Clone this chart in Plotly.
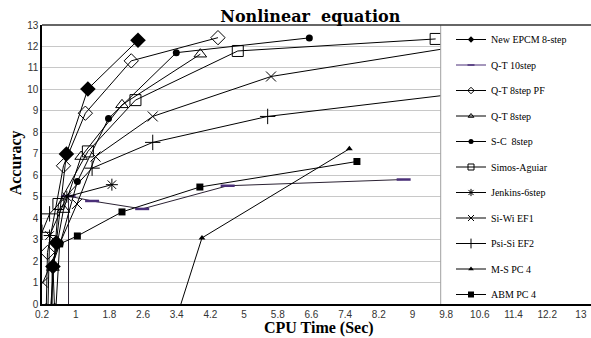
import plotly.graph_objects as go

# ---------------- data ----------------
names = ["New EPCM 8-step", "Q-T 10step", "Q-T 8step PF", "Q-T 8step", "S-C  8step",
         "Simos-Aguiar", "Jenkins-6step", "Si-Wi EF1", "Psi-Si EF2", "M-S PC 4", "ABM PC 4"]

epcm_x = [0.5, 0.46, 0.54, 0.78, 1.29, 2.48]
epcm_y = [-0.3, 1.75, 2.85, 6.99, 10.02, 12.29]

qt10_x = [0.83, 0.83, 1.39, 2.58, 4.61, 8.79]
qt10_y = [-0.5, 5.03, 4.8, 4.43, 5.51, 5.8]

qtpf_x = [0.3, 0.33, 0.71, 1.23, 2.32, 4.38]
qtpf_y = [-0.3, 2.4, 6.44, 8.89, 11.33, 12.41]

qt8_x = [0.42, 0.46, 0.71, 1.13, 2.1, 3.96]
qt8_y = [-0.3, 1.7, 4.4, 6.87, 9.28, 11.64]

sc_x = [0.44, 0.44, 0.63, 1.04, 1.78, 3.39, 6.55]
sc_y = [-0.3, 1.8, 2.81, 5.71, 8.64, 11.71, 12.4]

simos_x = [0.4, 0.59, 1.29, 2.42, 4.85, 9.55]
simos_y = [-0.3, 4.66, 7.11, 9.5, 11.79, 12.35]

jenk_x = [0.34, 0.38, 0.79, 1.86]
jenk_y = [-0.3, 3.19, 5.0, 5.56]

siwi_x = [0.22, 1.03, 1.47, 2.83, 5.64, 12.0]
siwi_y = [1.0, 4.66, 6.87, 8.74, 10.6, 12.6]

psisi_x = [0.2, 0.38, 1.39, 2.83, 5.56, 12.0]
psisi_y = [3.34, 4.2, 6.33, 7.53, 8.74, 10.25]

ms_x = [3.35, 4.0, 7.5]
ms_y = [-0.92, 3.08, 7.23]

abm_x = [0.53, 0.62, 1.04, 2.1, 3.95, 7.68]
abm_y = [-0.2, 2.8, 3.17, 4.29, 5.45, 6.64]

x_ticks = [0.2, 1, 1.8, 2.6, 3.4, 4.2, 5, 5.8, 6.6, 7.4, 8.2, 9, 9.8, 10.6, 11.4, 12.2, 13]
x_tick_text = ["0.2", "1", "1.8", "2.6", "3.4", "4.2", "5", "5.8", "6.6", "7.4", "8.2", "9",
               "9.8", "10.6", "11.4", "12.2", "13"]
y_ticks = list(range(0, 14))

# ---------------- styling ----------------
# (x, y, plot marker, legend marker, line colour)
series = [
    (epcm_x, epcm_y, dict(symbol="diamond", size=12, color="black"),
     dict(symbol="diamond", size=5, color="black"), "black"),
    (qt10_x, qt10_y, dict(symbol="line-ew", size=10, color="#4a2f78",
                          line=dict(color="#4a2f78", width=2.5)),
     dict(symbol="line-ew", size=5, color="#4a2f78", line=dict(color="#4a2f78", width=1.5)), "#2b2233"),
    (qtpf_x, qtpf_y, dict(symbol="diamond-open", size=11, color="black", line=dict(width=1)),
     dict(symbol="diamond-open", size=5, color="black", line=dict(width=1)), "black"),
    (qt8_x, qt8_y, dict(symbol="triangle-up-open", size=11, color="black", line=dict(width=1)),
     dict(symbol="triangle-up-open", size=5, color="black", line=dict(width=1)), "black"),
    (sc_x, sc_y, dict(symbol="circle", size=7, color="black"),
     dict(symbol="circle", size=5, color="black"), "black"),
    (simos_x, simos_y, dict(symbol="square-open", size=11, color="black", line=dict(width=1)),
     dict(symbol="square-open", size=6, color="black", line=dict(width=1)), "black"),
    (jenk_x, jenk_y, dict(symbol="asterisk-open", size=10, color="black", line=dict(width=1)),
     dict(symbol="asterisk-open", size=6, color="black", line=dict(width=1)), "black"),
    (siwi_x, siwi_y, dict(symbol="x-thin-open", size=10, color="black", line=dict(width=1)),
     dict(symbol="x-thin-open", size=6, color="black", line=dict(width=1)), "black"),
    (psisi_x, psisi_y, dict(symbol="cross-thin-open", size=11, color="black", line=dict(width=1)),
     dict(symbol="cross-thin-open", size=7, color="black", line=dict(width=1)), "black"),
    (ms_x, ms_y, dict(symbol="triangle-up", size=6, color="black"),
     dict(symbol="triangle-up", size=5, color="black"), "black"),
    (abm_x, abm_y, dict(symbol="square", size=7, color="black"),
     dict(symbol="square", size=6, color="black"), "black"),
]

fig = go.Figure()
for i, (xs, ys, mk, lmk, lc) in enumerate(series):
    fig.add_trace(go.Scatter(
        x=xs, y=ys, mode="lines+markers", name=names[i], showlegend=False,
        line=dict(color=lc, width=1), marker=mk,
    ))
for i, (xs, ys, mk, lmk, lc) in enumerate(series):
    # legend entry with small symbol (Excel-style legend)
    fig.add_trace(go.Scatter(
        x=[None], y=[None], mode="lines+markers", name=names[i], legendgroup=f"g{i}",
        line=dict(color=lc if i != 1 else "#4a2f78", width=1), marker=lmk,
    ))

x_max = 13.24
# legend box covering right part of plot area
fig.add_shape(type="rect", xref="x", yref="y", x0=9.67, x1=x_max + 1, y0=0.05, y1=12.95,
              fillcolor="white", line=dict(width=0), layer="above")
fig.add_shape(type="line", xref="x", yref="y", x0=9.67, x1=9.67, y0=0, y1=13,
              line=dict(color="#a0a0a0", width=1), layer="above")

fig.update_layout(
    width=591, height=338,
    margin=dict(l=42, r=0, t=25, b=34),
    paper_bgcolor="white", plot_bgcolor="white",
    showlegend=True,
    legend=dict(x=0.745, y=1.0, xanchor="left", yanchor="top",
                bgcolor="rgba(0,0,0,0)", borderwidth=0,
                font=dict(family="Liberation Serif", size=10, color="black"),
                tracegroupgap=6.5, itemwidth=30, maxheight=500),
    title=dict(text="<b>Nonlinear\u00a0\u00a0equation</b>", x=0.525, xanchor="center",
               y=0.952, yanchor="middle",
               font=dict(family="DejaVu Serif", size=16, color="black")),
    xaxis=dict(range=[0.2, x_max], tickmode="array", tickvals=x_ticks, ticktext=x_tick_text,
               showgrid=False, zeroline=False, showline=True, linecolor="black", linewidth=2,
               mirror=False, ticks="", tickfont=dict(family="Liberation Sans", size=10, color="#333")),
    yaxis=dict(range=[0, 13], tickmode="array", tickvals=y_ticks,
               showgrid=True, gridcolor="#c8c8c8", gridwidth=1, zeroline=False,
               showline=True, linecolor="black", linewidth=1.5, ticks="",
               tickfont=dict(family="Liberation Sans", size=10, color="#333")),
    annotations=[
        dict(text="<b>CPU Time (Sec)</b>", xref="paper", yref="paper", x=0.505, y=-0.085,
             xanchor="center", yanchor="middle", showarrow=False,
             font=dict(family="Liberation Serif", size=16, color="black")),
        dict(text="<b>Accuracy</b>", xref="paper", yref="paper", x=-0.047, y=0.505,
             xanchor="center", yanchor="middle", showarrow=False, textangle=-90,
             font=dict(family="Liberation Serif", size=16, color="black")),
    ],
)
# top border line
fig.add_shape(type="line", xref="paper", yref="paper", x0=0, x1=1, y0=1, y1=1,
              line=dict(color="#333", width=1.5), layer="above")

fig.write_html("out.html")
